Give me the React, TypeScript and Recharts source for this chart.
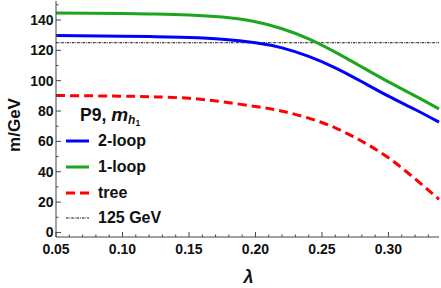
import React from 'react';
import { LineChart, Line, XAxis, YAxis, ReferenceLine, Label } from 'recharts';

const lambda = [0.05, 0.1, 0.125, 0.15, 0.175, 0.2, 0.22, 0.24, 0.26, 0.28, 0.3, 0.32, 0.338];
const twoLoop = [129.7, 129.3, 129.0, 128.4, 127.3, 125.0, 121.6, 116.0, 108.5, 99.3, 89.8, 81.0, 72.7];
const oneLoop = [144.6, 144.2, 143.9, 143.3, 141.9, 138.8, 134.2, 127.6, 118.8, 109.0, 99.2, 90.0, 81.4];
const tree = [90.2, 89.8, 89.3, 88.4, 86.1, 83.0, 79.9, 75.3, 68.9, 60.1, 49.2, 35.3, 21.8];
const higgsMass = 125;

const xTicks = [0.05, 0.06, 0.07, 0.08, 0.09, 0.1, 0.11, 0.12, 0.13, 0.14, 0.15, 0.16, 0.17, 0.18, 0.19, 0.2, 0.21, 0.22, 0.23, 0.24, 0.25, 0.26, 0.27, 0.28, 0.29, 0.3, 0.31, 0.32, 0.33];
const xMajor = [0.05, 0.1, 0.15, 0.2, 0.25, 0.3];
const yTicks = [0, 10, 20, 30, 40, 50, 60, 70, 80, 90, 100, 110, 120, 130, 140, 150];
const yMajor = [0, 20, 40, 60, 80, 100, 120, 140];

const seriesNames = ['2-loop', '1-loop', 'tree', '125 GeV'];
const seriesColors = ['#0000ff', '#1ea51e', '#ff0000', '#000000'];

const data = lambda.map((l, i) => ({ lam: l, twoLoop: twoLoop[i], oneLoop: oneLoop[i], tree: tree[i] }));

const FRAME = '#444';
const FONT = '"Liberation Sans", Arial, sans-serif';
const isIn = (arr: number[], v: number) => arr.some((a) => Math.abs(a - v) < 1e-6);

const BottomTick = (p: any) => {
  const { x, y, payload } = p;
  const major = isIn(xMajor, payload.value);
  return (
    <g>
      <line x1={x} x2={x} y1={y} y2={y - (major ? 5 : 2.5)} stroke={FRAME} strokeWidth={1} />
      {major && (
        <text x={x} y={y + 17} textAnchor="middle" fontFamily={FONT} fontWeight="bold" fontSize={14} fill="#111">
          {payload.value.toFixed(2)}
        </text>
      )}
    </g>
  );
};

const TopTick = (p: any) => {
  const { x, y, payload } = p;
  const major = isIn(xMajor, payload.value);
  return <line x1={x} x2={x} y1={y} y2={y + (major ? 5 : 2.5)} stroke={FRAME} strokeWidth={1} />;
};

const LeftTick = (p: any) => {
  const { x, y, payload } = p;
  const major = isIn(yMajor, payload.value);
  return (
    <g>
      <line x1={x} x2={x + (major ? 5 : 2.5)} y1={y} y2={y} stroke={FRAME} strokeWidth={1} />
      {major && (
        <text x={x - 2.5} y={y + 5} textAnchor="end" fontFamily={FONT} fontWeight="bold" fontSize={14} fill="#111">
          {payload.value}
        </text>
      )}
    </g>
  );
};

const RightTick = (p: any) => {
  const { x, y, payload } = p;
  const major = isIn(yMajor, payload.value);
  return <line x1={x} x2={x - (major ? 5 : 2.5)} y1={y} y2={y} stroke={FRAME} strokeWidth={1} />;
};

const dashes = ['', '', '9 5', '2.5 1 0.8 1'];
const widths = [3, 3, 3, 1];

export default function App() {
  return (
    <div style={{ position: 'absolute', left: 0, top: 0, width: 441, height: 288, background: '#fff' }}>
      <LineChart width={441} height={288} data={data} margin={{ top: 1, right: 2, bottom: 0, left: 0 }}>
        <XAxis
          dataKey="lam"
          type="number"
          domain={[0.05, 0.338]}
          ticks={xTicks}
          interval={0}
          height={51}
          tickSize={0}
          tickMargin={0}
          tickLine={false}
          axisLine={{ stroke: FRAME, strokeWidth: 1 }}
          tick={<BottomTick />}
        >
          <Label
            content={(props: any) => {
              const vb = props.viewBox;
              return (
                <text x={vb.x + vb.width / 2 + 1} y={vb.y + 46} textAnchor="middle" fontFamily={FONT} fontWeight="bold" fontStyle="italic" fontSize={18} fill="#111">
                  λ
                </text>
              );
            }}
          />
        </XAxis>
        <XAxis
          xAxisId="top"
          orientation="top"
          type="number"
          dataKey="lam"
          domain={[0.05, 0.338]}
          ticks={xTicks}
          interval={0}
          height={0}
          tickSize={0}
          tickMargin={0}
          tickLine={false}
          axisLine={{ stroke: FRAME, strokeWidth: 1 }}
          tick={<TopTick />}
        />
        <YAxis
          type="number"
          domain={[-3, 152.5]}
          ticks={yTicks}
          interval={0}
          width={56}
          tickSize={0}
          tickMargin={0}
          tickLine={false}
          axisLine={{ stroke: FRAME, strokeWidth: 1 }}
          tick={<LeftTick />}
        >
          <Label
            content={(props: any) => {
              const vb = props.viewBox;
              const cx = vb.x + 20;
              const cy = 125;
              return (
                <text x={cx} y={cy} transform={`rotate(-90 ${cx} ${cy})`} textAnchor="middle" fontFamily={FONT} fontWeight="bold" fontSize={17} fill="#111">
                  m/GeV
                </text>
              );
            }}
          />
        </YAxis>
        <YAxis
          yAxisId="right"
          orientation="right"
          type="number"
          domain={[-3, 152.5]}
          ticks={yTicks}
          interval={0}
          width={0}
          tickSize={0}
          tickMargin={0}
          tickLine={false}
          axisLine={{ stroke: FRAME, strokeWidth: 1 }}
          tick={<RightTick />}
        />
        <ReferenceLine y={higgsMass} stroke="#000" strokeWidth={1} strokeDasharray={dashes[3]} />
        <Line dataKey="tree" type="natural" stroke={seriesColors[2]} strokeWidth={3} strokeDasharray={dashes[2]} dot={false} isAnimationActive={false} />
        <Line dataKey="oneLoop" type="natural" stroke={seriesColors[1]} strokeWidth={3} dot={false} isAnimationActive={false} />
        <Line dataKey="twoLoop" type="natural" stroke={seriesColors[0]} strokeWidth={3} dot={false} isAnimationActive={false} />
      </LineChart>
      <div style={{ position: 'absolute', left: 80, top: 102, height: 26, display: 'flex', alignItems: 'center', fontFamily: FONT, fontWeight: 'bold', fontSize: 17.5, color: '#111', whiteSpace: 'nowrap' }}>
        <span>P9,&nbsp;</span>
        <span style={{ fontStyle: 'italic', fontSize: 19 }}>m</span>
        <span style={{ fontStyle: 'italic', fontSize: 12, position: 'relative', top: 5 }}>h</span>
        <span style={{ fontSize: 8.5, position: 'relative', top: 8 }}>1</span>
      </div>
      <div style={{ position: 'absolute', left: 65, top: 128.5, fontFamily: FONT, fontWeight: 'bold', fontSize: 16, color: '#111' }}>
        {seriesNames.map((n, i) => (
          <div key={n} style={{ height: 25.7, display: 'flex', alignItems: 'center', whiteSpace: 'nowrap' }}>
            <svg width={26} height={8} style={{ marginRight: 7 }}>
              <line x1={1} x2={24} y1={4} y2={4} stroke={seriesColors[i]} strokeWidth={widths[i]} strokeDasharray={dashes[i]} />
            </svg>
            <span>{n}</span>
          </div>
        ))}
      </div>
    </div>
  );
}
